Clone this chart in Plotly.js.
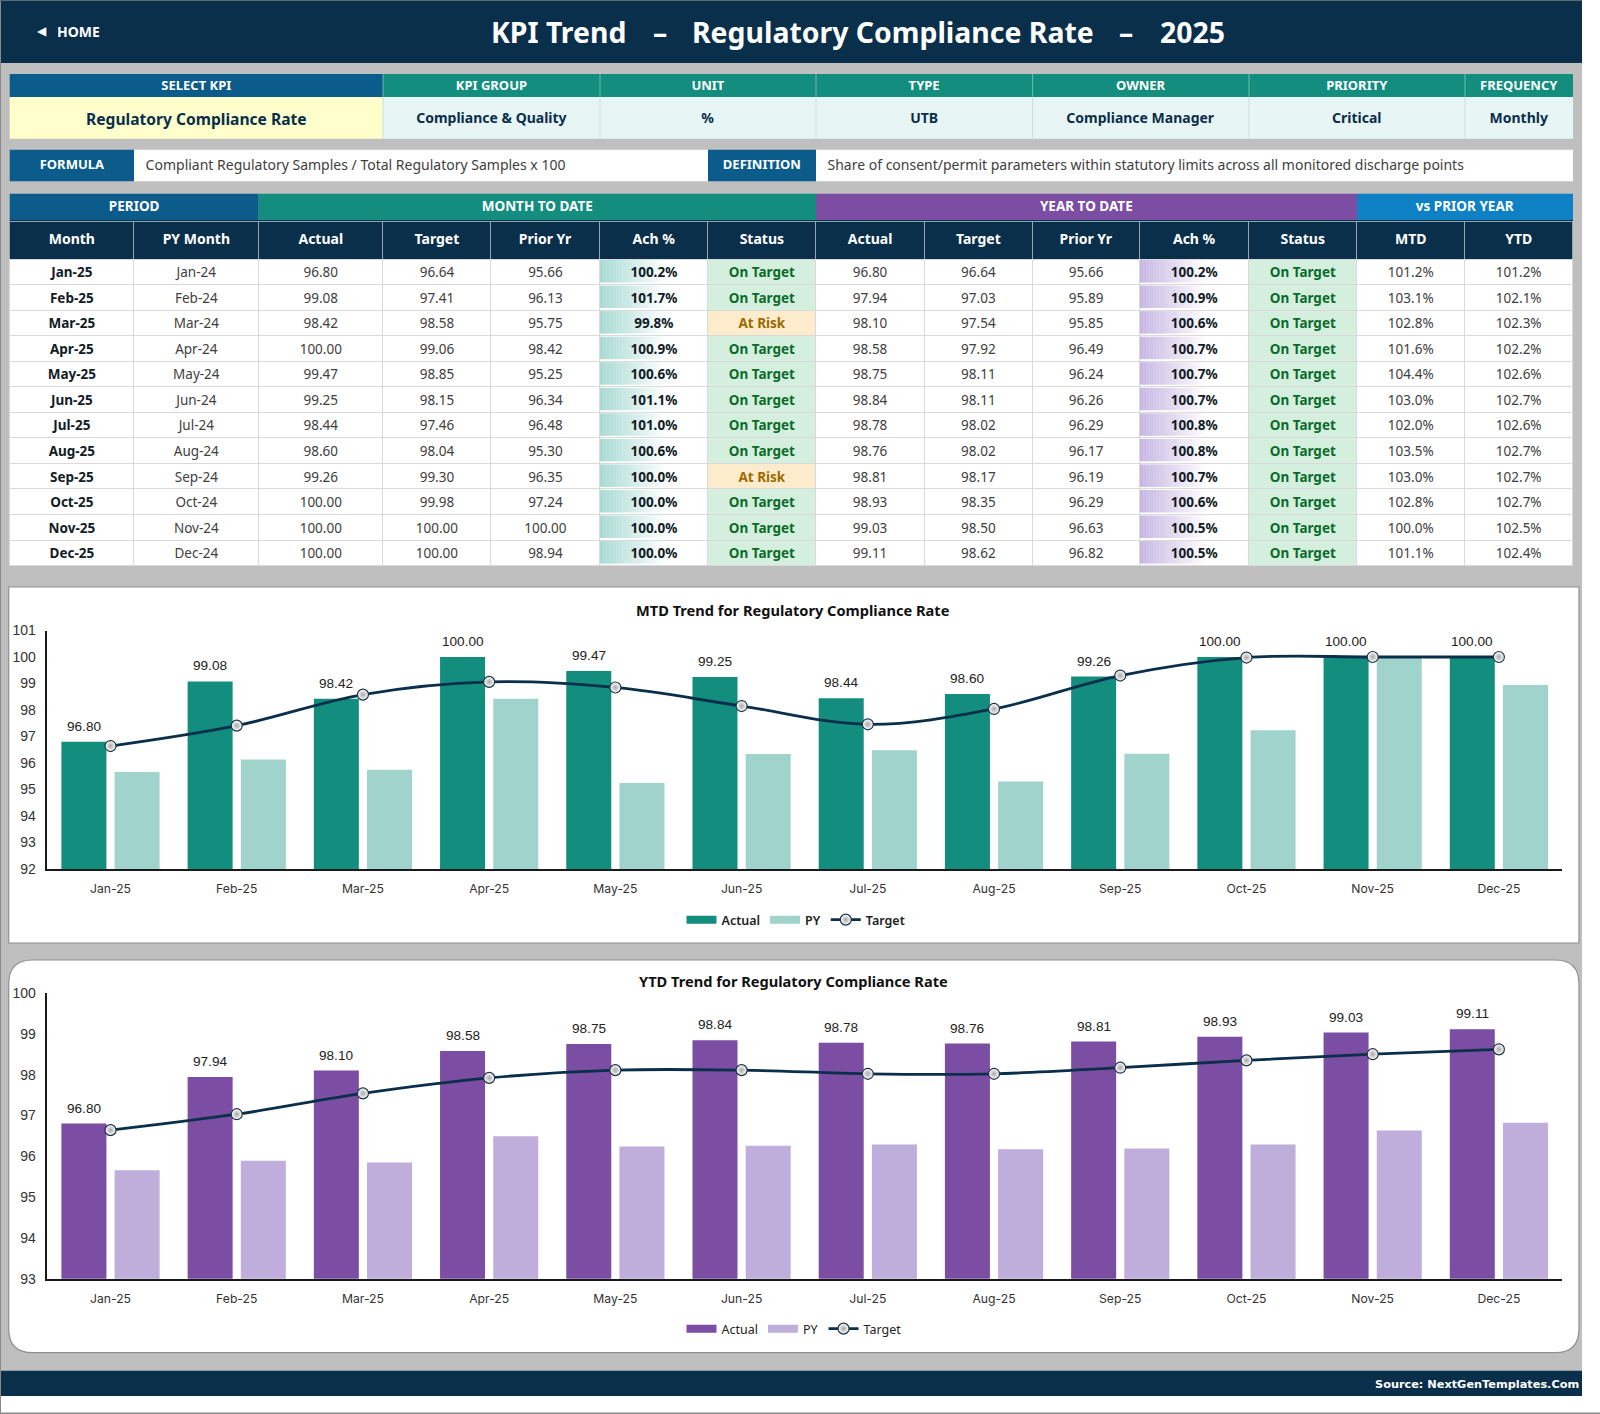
<!DOCTYPE html>
<html><head><meta charset="utf-8">
<script src="https://cdn.plot.ly/plotly-3.0.1.min.js"></script>
<style>html,body{margin:0;padding:0;background:#fff}#c{width:1600px;height:1414px}</style>
</head><body><div id="c"></div>
<script>
const months=["Jan-25","Feb-25","Mar-25","Apr-25","May-25","Jun-25","Jul-25","Aug-25","Sep-25","Oct-25","Nov-25","Dec-25"];
const pyMonths=["Jan-24","Feb-24","Mar-24","Apr-24","May-24","Jun-24","Jul-24","Aug-24","Sep-24","Oct-24","Nov-24","Dec-24"];
const mtdActual=[96.80,99.08,98.42,100.00,99.47,99.25,98.44,98.60,99.26,100.00,100.00,100.00];
const mtdTarget=[96.64,97.41,98.58,99.06,98.85,98.15,97.46,98.04,99.30,99.98,100.00,100.00];
const mtdPrior=[95.66,96.13,95.75,98.42,95.25,96.34,96.48,95.30,96.35,97.24,100.00,98.94];
const mtdAch=[100.2,101.7,99.8,100.9,100.6,101.1,101.0,100.6,100.0,100.0,100.0,100.0];
const mtdStatus=["On Target","On Target","At Risk","On Target","On Target","On Target","On Target","On Target","At Risk","On Target","On Target","On Target"];
const ytdActual=[96.80,97.94,98.10,98.58,98.75,98.84,98.78,98.76,98.81,98.93,99.03,99.11];
const ytdTarget=[96.64,97.03,97.54,97.92,98.11,98.11,98.02,98.02,98.17,98.35,98.50,98.62];
const ytdPrior=[95.66,95.89,95.85,96.49,96.24,96.26,96.29,96.17,96.19,96.29,96.63,96.82];
const ytdAch=[100.2,100.9,100.6,100.7,100.7,100.7,100.8,100.8,100.7,100.6,100.5,100.5];
const ytdStatus=["On Target","On Target","On Target","On Target","On Target","On Target","On Target","On Target","On Target","On Target","On Target","On Target"];
const vsMtd=[101.2,103.1,102.8,101.6,104.4,103.0,102.0,103.5,103.0,102.8,100.0,101.1];
const vsYtd=[101.2,102.1,102.3,102.2,102.6,102.7,102.6,102.7,102.7,102.7,102.5,102.4];
const kpiHeads=["SELECT KPI","KPI GROUP","UNIT","TYPE","OWNER","PRIORITY","FREQUENCY"];
const kpiVals=["Regulatory Compliance Rate","Compliance & Quality","%","UTB","Compliance Manager","Critical","Monthly"];
const groupHeads=["PERIOD","MONTH TO DATE","YEAR TO DATE","vs PRIOR YEAR"];
const colHeads=["Month","PY Month","Actual","Target","Prior Yr","Ach %","Status","Actual","Target","Prior Yr","Ach %","Status","MTD","YTD"];
const formulaRow=["FORMULA","Compliant Regulatory Samples / Total Regulatory Samples x 100","DEFINITION","Share of consent/permit parameters within statutory limits across all monitored discharge points"];

const W=1600,H=1414;
const px=x=>x/W, py=y=>1-y/H;
const C={navy:"#0a2f4b",blue:"#0b5c8a",teal:"#138d7e",tealL:"#9fd3cb",purple:"#7b4ea3",purpleL:"#bfaddb",sky:"#0e80c4",grey:"#bfbfbf",pale:"#e8f5f5",yellow:"#ffffcc",ok:"#d5efdf",okT:"#0a6b2a",risk:"#fdeccb",riskT:"#9c6a00",ink:"#404040",dark:"#111c26"};
const edges=[9.7,134,258.7,383,491,600,708,816,924.5,1032.6,1140,1249,1357,1465,1573];
const F="'Noto Sans',sans-serif", FA="'Liberation Sans',Arial,sans-serif", FI="Inter,sans-serif";
const nb=s=>String(s).replace(/ /g,"\u00A0");
const w=(a,c)=>edges[c]-edges[a];
const rowH=25.55, bodyTop=259;
const none={color:"rgba(0,0,0,0)",width:0};
const clearC="rgba(0,0,0,0)";
const kpiWidths=[w(0,3),w(3,5),w(5,7),w(7,9),w(9,11),w(11,13),w(13,14)];
const kpiEdges=[edges[0],edges[3],edges[5],edges[7],edges[9],edges[11],edges[13],edges[14]];
const groupEdges=[edges[0],edges[2],edges[7],edges[12],edges[14]];
const colWidths=edges.slice(1).map((e,i)=>e-edges[i]);

function table(x0,x1,y0,y1,o){return Object.assign({type:"table",domain:{x:[px(x0),px(x1)],y:[py(y1),py(y0)]}},o);}
const traces=[];
// KPI headings (fills drawn behind)
traces.push(table(edges[0],edges[14],72,99,{
 columnwidth:kpiWidths,
 header:{values:kpiHeads.map(s=>[nb(s)]),height:23,align:"center",font:{family:F,size:13,color:"#fff",weight:700},
  fill:{color:clearC},line:none},
 cells:{values:kpiHeads.map(()=>[]),height:1}
}));
// KPI values (fills drawn behind; text row centred in the taller band)
traces.push(table(edges[0],edges[14],99.85,136,{
 columnwidth:kpiWidths,
 header:{values:kpiVals.map(s=>["<b>"+nb(s)+"</b>"]),height:34,align:"center",font:{family:F,size:[15.6,14,14,14,14,14,14],color:C.navy},
  fill:{color:clearC},line:none},
 cells:{values:kpiVals.map(()=>[]),height:1}
}));
// Formula strip
traces.push(table(edges[0],edges[14],151.7,181.3,{
 columnwidth:[w(0,1),w(1,6),w(6,7),w(7,14)],
 header:{values:formulaRow.map((s,i)=>[i%2?"\u00A0"+nb(s):nb(s)]),height:27,align:["center","left","center","left"],
  font:{family:F,size:[13,14,13,14],color:["#fff",C.ink,"#fff",C.ink],weight:[700,400,700,400]},fill:{color:clearC},line:none},
 cells:{values:[[],[],[],[]],height:1}
}));
// Group band (fills drawn behind)
traces.push(table(edges[0],edges[14],192.7,221,{
 columnwidth:[w(0,2),w(2,7),w(7,12),w(12,14)],
 header:{values:groupHeads.map(s=>[nb(s)]),height:26.3,align:"center",font:{family:F,size:13.5,color:"#fff",weight:700},
  fill:{color:clearC},line:none},
 cells:{values:[[],[],[],[]],height:1}
}));
// Column headings (navy band drawn behind, separators come from the table)
traces.push(table(edges[0],edges[14],221,260,{
 columnwidth:colWidths,
 header:{values:colHeads.map(s=>["<b>"+nb(s)+"</b>"]),height:38,align:"center",font:{family:F,size:14,color:"#fff"},
  fill:{color:C.navy},line:{color:"#8fa6b5",width:1}},
 cells:{values:colHeads.map(()=>[]),height:1}
}));
// Body: one single-row table per month, which keeps rows 25.5 px high with per-column weights
const fmt2=a=>a.map(v=>v.toFixed(2)), pct=a=>a.map(v=>v.toFixed(1)+"%");
const st=a=>a.map(s=>nb(s));
const n=months.length;
const mainCols=[months,pyMonths,fmt2(mtdActual),fmt2(mtdTarget),fmt2(mtdPrior),pct(mtdAch),st(mtdStatus),
   fmt2(ytdActual),fmt2(ytdTarget),fmt2(ytdPrior),pct(ytdAch),st(ytdStatus),pct(vsMtd),pct(vsYtd)];
const bodyWeights=[700,400,400,400,400,700,700,400,400,400,700,700,400,400];
const sFill=s=>s==="At Risk"?C.risk:C.ok, sText=s=>s==="At Risk"?C.riskT:C.okT;
months.forEach((m,i)=>{
 const y=bodyTop+i*rowH;
 traces.push(table(edges[0],edges[14],y,y+rowH+1,{
  columnwidth:colWidths,
  header:{values:mainCols.map(c=>[c[i]]),height:rowH,align:"center",
   font:{family:F,size:13.5,weight:bodyWeights,
    color:[C.dark,C.ink,C.ink,C.ink,C.ink,C.dark,sText(mtdStatus[i]),C.ink,C.ink,C.ink,C.dark,sText(ytdStatus[i]),C.ink,C.ink]},
   fill:{color:["#fff","#fff","#fff","#fff","#fff",clearC,sFill(mtdStatus[i]),"#fff","#fff","#fff",clearC,sFill(ytdStatus[i]),"#fff","#fff"]},
   line:{color:"#d9d9d9",width:1}},
  cells:{values:mainCols.map(()=>[]),height:1}
 }));
});
// Charts
const chartAnn=[];
function chart(sfx,actual,prior,target,cA,cP,lg){
 const ax="x"+sfx, ay="y"+sfx;
 traces.push({type:"bar",name:"Actual",x:months,y:actual,xaxis:ax,yaxis:ay,marker:{color:cA},legend:lg,legendgroup:"a"+sfx,showlegend:false,hoverinfo:"x+y"});
 traces.push({type:"bar",name:"PY",x:months,y:prior,xaxis:ax,yaxis:ay,marker:{color:cP},legend:lg,legendgroup:"p"+sfx,showlegend:false,hoverinfo:"x+y"});
 // legend keys: wide swatches, tied to the bars through their legend group
 traces.push({type:"scatter",mode:"lines",name:"Actual",x:[null],y:[null],xaxis:ax,yaxis:ay,line:{color:cA,width:8},legend:lg,legendgroup:"a"+sfx,hoverinfo:"skip"});
 traces.push({type:"scatter",mode:"lines",name:"PY",x:[null],y:[null],xaxis:ax,yaxis:ay,line:{color:cP,width:8},legend:lg,legendgroup:"p"+sfx,hoverinfo:"skip"});
 traces.push({type:"scatter",mode:"lines+markers",name:"Target",x:months,y:target,xaxis:ax,yaxis:ay,legend:lg,
   line:{color:C.navy,width:2.8,shape:"spline",smoothing:1},
   marker:{size:11,color:"#ffffff",gradient:{type:"radial",color:"#a8a8a8"},line:{color:"#1d3345",width:1.2}}});
 actual.forEach((v,i)=>chartAnn.push({xref:ax,yref:ay,x:i-0.2108,y:v,yshift:15.5,text:v.toFixed(2),showarrow:false,xanchor:"center",yanchor:"middle",
   font:{family:FA,size:13.6,color:"#222"}}));
}
chart("",mtdActual,mtdPrior,mtdTarget,C.teal,C.tealL,"legend");
chart("2",ytdActual,ytdPrior,ytdTarget,C.purple,C.purpleL,"legend2");

const rect=(x0,y0,x1,y1,fill,line)=>({type:"rect",xref:"paper",yref:"paper",x0:px(x0),x1:px(x1),y0:py(y0),y1:py(y1),fillcolor:fill,line:line||{width:0},layer:"below"});
function rounded(x0,y0,x1,y1,r,fill,line){
 const X=px,Y=py;
 const path=`M${X(x0+r)},${Y(y0)}L${X(x1-r)},${Y(y0)}Q${X(x1)},${Y(y0)} ${X(x1)},${Y(y0+r)}L${X(x1)},${Y(y1-r)}Q${X(x1)},${Y(y1)} ${X(x1-r)},${Y(y1)}L${X(x0+r)},${Y(y1)}Q${X(x0)},${Y(y1)} ${X(x0)},${Y(y1-r)}L${X(x0)},${Y(y0+r)}Q${X(x0)},${Y(y0)} ${X(x0+r)},${Y(y0)}Z`;
 return {type:"path",xref:"paper",yref:"paper",path,fillcolor:fill,line,layer:"below"};
}
const shapes=[
 rect(0,0,1582,1396,C.grey),
 rect(0,0,1582,63,C.navy),
 rect(0,1370.7,1582,1396,C.navy),
 rect(0,1412.6,1600,1414,"#8a8a8a"),
 rect(0,0,1,1414,"#8a8a8a"),
 rect(0,0,1582,1,"#5e6a73"),
 rect(8.7,587,1579,943,"#fff",{color:"#8f8f8f",width:1.2}),
 rounded(8.7,960,1579,1352.7,24,"#fff",{color:"#8f8f8f",width:1.2}),
 // KPI heading and value bands
 rect(edges[0],74,edges[3],97,C.blue),
 rect(edges[3],74,edges[14],97,C.teal),
 rect(edges[0],97,edges[3],138.7,C.yellow),
 rect(edges[3],97,edges[14],138.7,C.pale),
 // formula strip
 rect(edges[0],149.7,edges[1],181.3,C.blue),
 rect(edges[1],149.7,edges[6],181.3,"#fff"),
 rect(edges[6],149.7,edges[7],181.3,C.blue),
 rect(edges[7],149.7,edges[14],181.3,"#fff"),
 // column-heading band
 rect(edges[0],220,edges[14],259,C.navy)
];
[C.blue,C.teal,C.purple,C.sky].forEach((c,i)=>shapes.push(rect(groupEdges[i],193.7,groupEdges[i+1],220,c)));
kpiEdges.slice(1,-1).forEach(e=>{shapes.push(rect(e-0.5,74,e+0.5,97,"rgba(255,255,255,.4)"));shapes.push(rect(e-0.5,97,e+0.5,138.7,"#cfdde0"));});
// Data-bar gradients behind the transparent Ach % cells
function dataBars(col,r,g,bl){
 const x0=edges[col],x1=edges[col+1],steps=20,span=(x1-x0)*0.6;
 for(let i=0;i<n;i++){
  const t=bodyTop+i*rowH+1,bt=t+rowH-3;
  shapes.push(rect(x0,t-1,x1,bt+2,"#fff"));
  for(let s=0;s<steps;s++){
   const a=0.62*(1-s/steps);
   shapes.push(rect(x0+span*s/steps,t,x0+span*(s+1)/steps,bt,`rgba(${r},${g},${bl},${a.toFixed(3)})`));
  }
 }
}
dataBars(5,117,196,186);
dataBars(10,165,140,210);

const ann=(x,y,text,o)=>Object.assign({xref:"paper",yref:"paper",x:px(x),y:py(y),text,showarrow:false,xanchor:"center",yanchor:"middle"},o);
const tf={family:F,size:28.4,color:"#fff"};
const annotations=[
 ann(558.7,31.5,"<b>KPI Trend</b>",{font:tf}),
 ann(660,31.5,"<b>–</b>",{font:tf}),
 ann(893.4,31.5,"<b>Regulatory Compliance Rate</b>",{font:tf}),
 ann(1125.5,31.5,"<b>–</b>",{font:tf}),
 ann(1192,31.5,"<b>2025</b>",{font:tf}),
 ann(42,31,"◀",{font:{family:"'DejaVu Sans'",size:12,color:"#fff"}}),
 ann(78,31,"<b>HOME</b>",{font:{family:F,size:14,color:"#fff"}}),
 ann(1581,1384,"<b>Source: NextGenTemplates.Com</b>",{xanchor:"right",font:{family:"'DejaVu Sans'",size:11.3,color:"#fff"}}),
 ann(793,609.5,"<b>MTD Trend for Regulatory Compliance Rate</b>",{font:{family:F,size:14.6,color:"#111"}}),
 ann(793,981,"<b>YTD Trend for Regulatory Compliance Rate</b>",{font:{family:F,size:14.6,color:"#111"}})
].concat(chartAnn);
const xBase={type:"category",range:[-0.5,11.5],showgrid:false,ticks:"",showline:true,linecolor:"#1a1a1a",linewidth:1.5,tickfont:{family:FI,size:12.2,color:"#333"},ticklabelstandoff:8,zeroline:false,fixedrange:true};
const yBase={showgrid:false,ticks:"",showline:true,linecolor:"#1a1a1a",linewidth:1.5,dtick:1,tickfont:{family:FA,size:14,color:"#333"},ticklabelstandoff:7,zeroline:false,fixedrange:true};
const legendBase={orientation:"h",xanchor:"center",yanchor:"middle",bgcolor:"rgba(0,0,0,0)",itemwidth:30,traceorder:"normal"};
const layout={width:W,height:H,margin:{l:0,r:0,t:0,b:0,pad:0},paper_bgcolor:"#fff",plot_bgcolor:"rgba(0,0,0,0)",
 barmode:"group",bargap:0.157,bargroupgap:0.154,shapes,annotations,hovermode:"closest",
 xaxis:Object.assign({},xBase,{domain:[px(47.4),px(1562)],anchor:"y"}),
 yaxis:Object.assign({},yBase,{domain:[py(869),py(630.5)],range:[92,101],anchor:"x"}),
 xaxis2:Object.assign({},xBase,{domain:[px(47.4),px(1562)],anchor:"y2"}),
 yaxis2:Object.assign({},yBase,{domain:[py(1278.7),py(993)],range:[93,100],anchor:"x2"}),
 legend:Object.assign({},legendBase,{x:px(796),y:py(920),font:{family:F,size:12.5,color:"#222",weight:600}}),
 legend2:Object.assign({},legendBase,{x:px(794),y:py(1329),font:{family:F,size:12.5,color:"#222"}})
};
Plotly.newPlot("c",traces,layout,{displayModeBar:false,responsive:false});
</script></body></html>
